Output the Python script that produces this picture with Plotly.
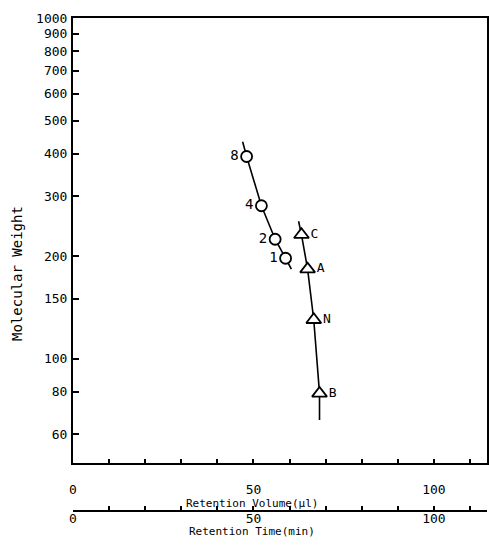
import plotly.graph_objects as go

# Calibration standards (circles) : retention volume (ul), molecular weight, label
std_x = [48.1, 52.2, 56.0, 58.9]
std_y = [392, 281, 224, 197]
std_lbl = ["8", "4", "2", "1"]
std_line_x = [47.0, 48.1, 52.2, 56.0, 58.9, 60.5]
std_line_y = [433, 392, 281, 224, 197, 183]

# Samples (triangles)
smp_x = [63.3, 65.0, 66.7, 68.3]
smp_y = [231, 183, 130, 79]
smp_lbl = ["C", "A", "N", "B"]
smp_line_x = [62.5, 63.3, 65.0, 66.7, 68.3, 68.3]
smp_line_y = [253, 231, 183, 130, 79, 66]

y_ticks = [60, 80, 100, 150, 200, 300, 400, 500, 600, 700, 800, 900, 1000]
x_ticks = [0, 10, 20, 30, 40, 50, 60, 70, 80, 90, 100, 110]
x_ticktext = ["0", "", "", "", "", "50", "", "", "", "", "100", ""]
x_range = [0, 114.7]

FONT = "DejaVu Sans Mono"
BLACK = "black"

fig = go.Figure()
fig.add_trace(go.Scatter(x=std_line_x, y=std_line_y, mode="lines",
                         line=dict(color=BLACK, width=1.6), showlegend=False, hoverinfo="skip"))
fig.add_trace(go.Scatter(x=smp_line_x, y=smp_line_y, mode="lines",
                         line=dict(color=BLACK, width=1.6), showlegend=False, hoverinfo="skip"))
fig.add_trace(go.Scatter(x=std_x, y=std_y, mode="markers+text", text=std_lbl,
                         textposition="middle left",
                         textfont=dict(family=FONT, size=14, color=BLACK),
                         marker=dict(symbol="circle", size=11, color="white",
                                     line=dict(color=BLACK, width=1.8)),
                         showlegend=False))
fig.add_trace(go.Scatter(x=smp_x, y=smp_y, mode="markers+text", text=smp_lbl,
                         textposition="middle right",
                         textfont=dict(family=FONT, size=13, color=BLACK),
                         marker=dict(symbol="triangle-up", size=13, color="white",
                                     line=dict(color=BLACK, width=1.8)),
                         showlegend=False))
# invisible trace to carry the second x axis
fig.add_trace(go.Scatter(x=x_range, y=[100, 100], xaxis="x2", mode="markers",
                         marker=dict(opacity=0), showlegend=False, hoverinfo="skip"))

L, R, T, B = 73, 2, 18, 42
W, H = 489, 553
PW, PH = W - L - R, H - T - B
y_dom0 = (H - B - 463) / PH

def px(xp): return (xp - L) / PW
def py(yp): return (H - B - yp) / PH

fig.update_layout(
    width=W, height=H,
    margin=dict(l=L, r=R, t=T, b=B),
    paper_bgcolor="white", plot_bgcolor="white",
    font=dict(family=FONT, color=BLACK, size=13),
    xaxis=dict(range=x_range, tickvals=x_ticks, ticktext=x_ticktext,
               ticks="inside", ticklen=4, tickwidth=1.5, tickcolor=BLACK,
               showline=True, linecolor=BLACK, linewidth=2, mirror=True,
               showgrid=False, zeroline=False, anchor="y", automargin=False,
               ticklabelstandoff=13,
               tickfont=dict(family=FONT, size=13)),
    xaxis2=dict(range=x_range, tickvals=x_ticks, ticktext=x_ticktext,
                overlaying="x", anchor="free", position=0, side="bottom",
                ticks="inside", ticklen=4, tickwidth=1.5, tickcolor=BLACK,
                showline=True, linecolor=BLACK, linewidth=2, automargin=False,
                showgrid=False, zeroline=False, ticklabelstandoff=-5,
                tickfont=dict(family=FONT, size=13)),
    yaxis=dict(type="log", range=[2 - 104 / 339, 3], domain=[y_dom0, 1],
               tickvals=y_ticks, ticktext=[str(v) for v in y_ticks],
               ticks="inside", ticklen=6, tickwidth=1.5, tickcolor=BLACK,
               showline=True, linecolor=BLACK, linewidth=2, mirror=True,
               showgrid=False, zeroline=False, ticklabelstandoff=1, automargin=False,
               tickfont=dict(family=FONT, size=13)),
    annotations=[
        dict(text="Molecular Weight", x=px(17), y=py(274), xref="paper", yref="paper",
             xanchor="center", yanchor="middle",
             showarrow=False, textangle=-90, font=dict(family=FONT, size=14)),
        dict(text="Retention Volume(μl)", x=px(252), y=py(503), showarrow=False,
             xanchor="center", yanchor="middle",
             xref="paper", yref="paper", font=dict(family=FONT, size=11)),
        dict(text="Retention Time(min)", x=px(252), y=py(531), showarrow=False,
             xanchor="center", yanchor="middle",
             xref="paper", yref="paper", font=dict(family=FONT, size=11)),
    ],
)

fig.write_html(
    "out.html",
    config={"displayModeBar": False},
    post_script="document.body.style.margin='0';document.body.style.overflow='hidden';",
)
